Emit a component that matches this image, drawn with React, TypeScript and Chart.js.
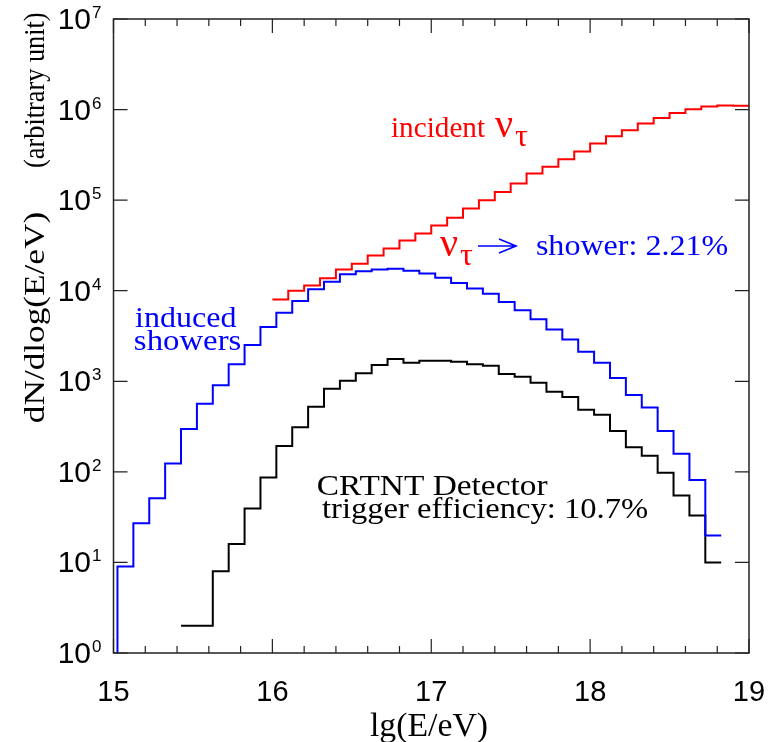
import { useEffect, useRef } from "react";
import { Chart, registerables } from "chart.js";

Chart.register(...registerables);

// ---- data ----
const BIN_WIDTH = 0.1;
const X_MIN = 15;
const X_MAX = 19;
const Y_MIN = 1;
const Y_MAX = 1e7;
const X_TICKS = [15, 16, 17, 18, 19];
const Y_DECADES = [0, 1, 2, 3, 4, 5, 6, 7];

// incident nu_tau (red), bins start at lg E = 16.0
const INCIDENT_START = 16.0;
const INCIDENT = [
  8020, 10000, 11450, 13700, 17200, 19800, 24500, 29300, 35900, 42900,
  52500, 63800, 80900, 100000, 123000, 153000, 197000, 233000, 283000, 344000,
  422000, 507000, 591000, 700000, 808000, 917000, 1010000, 1080000, 1107000, 1100000,
];

// induced showers (blue)
const SHOWERS_START = 15.025;
const SHOWERS = [
  9.0, 27, 51, 124, 298, 566, 903, 1540, 2510, 3970,
  5710, 7690, 10400, 12550, 15150, 16450, 17200, 17450, 16600, 15500,
  13900, 12200, 10600, 9250, 7500, 6070, 4830, 3740, 2900, 2120,
  1600, 1090, 706, 512, 283, 158, 81.5, 19.8,
];

// CRTNT triggered (black)
const TRIGGERED_START = 15.425;
const TRIGGERED = [
  2, 2, 8, 16, 39.4, 86.5, 193, 311, 525, 828,
  1016, 1225, 1510, 1760, 1600, 1690, 1690, 1645, 1540, 1485,
  1203, 1125, 966, 768, 671, 486, 428, 283, 187, 151,
  98, 54.7, 33, 10,
];

function stepPoints(start: number, values: number[], fromFloor = false) {
  const pts: { x: number; y: number }[] = [];
  if (fromFloor) pts.push({ x: start, y: Y_MIN });
  values.forEach((v, i) => pts.push({ x: +(start + i * BIN_WIDTH).toFixed(4), y: v }));
  pts.push({ x: +(start + values.length * BIN_WIDTH).toFixed(4), y: values[values.length - 1] });
  return pts;
}

const SERIF = "'Liberation Serif', 'DejaVu Serif', serif";
const SANS = "'Liberation Sans', Arial, sans-serif";

function drawFit(
  ctx: CanvasRenderingContext2D,
  text: string,
  x: number,
  y: number,
  font: string,
  color: string,
  width?: number
) {
  ctx.save();
  ctx.font = font;
  ctx.fillStyle = color;
  ctx.textAlign = "left";
  ctx.textBaseline = "alphabetic";
  const m = ctx.measureText(text);
  const glyphW = m.actualBoundingBoxLeft + m.actualBoundingBoxRight;
  const s = width ? width / glyphW : 1;
  ctx.translate(x, y);
  ctx.scale(s, 1);
  ctx.fillText(text, m.actualBoundingBoxLeft, 0);
  ctx.restore();
}

const decorPlugin = {
  id: "decor",
  afterDraw(chart: any) {
    const ctx: CanvasRenderingContext2D = chart.ctx;
    const { left, right, top, bottom } = chart.chartArea;
    const xs = chart.scales.x;
    const ys = chart.scales.y;
    ctx.save();
    // frame
    ctx.strokeStyle = "#222";
    ctx.lineWidth = 1.5;
    ctx.strokeRect(left, top, right - left, bottom - top);
    // x ticks (bottom & top)
    ctx.lineWidth = 1.2;
    for (let k = 0; k <= (X_MAX - X_MIN) * 5; k++) {
      const v = X_MIN + k * 0.2;
      const px = xs.getPixelForValue(v);
      const major = k % 5 === 0;
      const len = major ? 14 : 7;
      ctx.beginPath();
      ctx.moveTo(px, bottom);
      ctx.lineTo(px, bottom - len);
      ctx.moveTo(px, top);
      ctx.lineTo(px, top + len);
      ctx.stroke();
    }
    // y ticks (left & right)
    Y_DECADES.forEach((d) => {
      const py = ys.getPixelForValue(Math.pow(10, d));
      ctx.beginPath();
      ctx.moveTo(left, py);
      ctx.lineTo(left + 14, py);
      ctx.moveTo(right, py);
      ctx.lineTo(right - 14, py);
      ctx.stroke();
    });
    ctx.restore();

    // tick labels
    ctx.save();
    ctx.fillStyle = "#000";
    ctx.textBaseline = "alphabetic";
    X_TICKS.forEach((t) => {
      const px = xs.getPixelForValue(t);
      ctx.font = `29px ${SANS}`;
      ctx.textAlign = "center";
      ctx.fillText(String(t), px, 701);
    });
    Y_DECADES.forEach((d) => {
      const py = ys.getPixelForValue(Math.pow(10, d));
      ctx.font = `30px ${SANS}`;
      ctx.textAlign = "right";
      ctx.fillText("10", 91, py + 10);
      ctx.font = `17px ${SANS}`;
      ctx.textAlign = "left";
      ctx.fillText(String(d), 92, py - 1);
    });
    ctx.restore();

    // axis titles
    drawFit(ctx, "lg(E/eV)", 370, 736, `33px ${SERIF}`, "#000", 117);
    ctx.save();
    ctx.translate(44, 0);
    ctx.rotate(-Math.PI / 2);
    drawFit(ctx, "dN/dlog(E/eV)", -422, 0, `30px ${SERIF}`, "#000", 209);
    drawFit(ctx, "(arbitrary unit)", -167, 0, `29px ${SERIF}`, "#000", 154);
    ctx.restore();

    // annotations
    const red = "#ff0000";
    const blue = "#0000ff";
    drawFit(ctx, "incident", 391, 137, `29px ${SERIF}`, red, 94);
    drawFit(ctx, "\u03bd", 495, 137, `40px ${SERIF}`, red);
    drawFit(ctx, "\u03c4", 515, 146, `32px ${SERIF}`, red);

    drawFit(ctx, "\u03bd", 440, 256, `40px ${SERIF}`, red);
    drawFit(ctx, "\u03c4", 460, 265, `32px ${SERIF}`, red);
    ctx.save();
    ctx.strokeStyle = blue;
    ctx.lineWidth = 1.6;
    ctx.beginPath();
    ctx.moveTo(478, 246);
    ctx.lineTo(516, 246);
    ctx.moveTo(499, 239);
    ctx.lineTo(516, 246);
    ctx.lineTo(499, 253);
    ctx.stroke();
    ctx.restore();
    drawFit(ctx, "shower: 2.21%", 537, 255, `29px ${SERIF}`, blue, 191);

    drawFit(ctx, "induced", 135, 327, `29px ${SERIF}`, blue, 102);
    drawFit(ctx, "showers", 135, 350, `29px ${SERIF}`, blue, 106);

    drawFit(ctx, "CRTNT Detector", 318, 495, `29px ${SERIF}`, "#000", 230);
    drawFit(ctx, "trigger efficiency: 10.7%", 322, 518, `29px ${SERIF}`, "#000", 326);
  },
};

export default function App() {
  const ref = useRef<HTMLCanvasElement | null>(null);
  useEffect(() => {
    if (!ref.current) return;
    const mk = (data: { x: number; y: number }[], color: string) => ({
      data,
      borderColor: color,
      backgroundColor: color,
      borderWidth: 2,
      pointRadius: 0,
      stepped: "before" as const,
      tension: 0,
      fill: false,
    });
    const chart = new Chart(ref.current, {
      type: "line",
      data: {
        datasets: [
          mk(stepPoints(INCIDENT_START, INCIDENT), "#ff0000"),
          mk(stepPoints(SHOWERS_START, SHOWERS, true), "#0000ff"),
          mk(stepPoints(TRIGGERED_START, TRIGGERED), "#000000"),
        ],
      },
      options: {
        animation: false,
        responsive: false,
        devicePixelRatio: 1,
        parsing: false as any,
        normalized: true,
        layout: { padding: { top: 19, right: 20, left: 0, bottom: 0 } },
        plugins: { legend: { display: false }, tooltip: { enabled: false } },
        scales: {
          x: {
            type: "linear",
            min: X_MIN,
            max: X_MAX,
            grid: { display: false },
            border: { display: false },
            ticks: { display: false },
            afterFit: (s: any) => {
              s.height = 89;
            },
          },
          y: {
            type: "logarithmic",
            min: Y_MIN,
            max: Y_MAX,
            grid: { display: false },
            border: { display: false },
            ticks: { display: false },
            afterFit: (s: any) => {
              s.width = 113.5;
            },
          },
        },
      },
      plugins: [decorPlugin],
    });
    return () => chart.destroy();
  }, []);
  return (
    <div style={{ position: "absolute", left: 0, top: 0, width: 769, height: 742, background: "#fff" }}>
      <canvas ref={ref} width={769} height={742} style={{ display: "block" }} />
    </div>
  );
}
